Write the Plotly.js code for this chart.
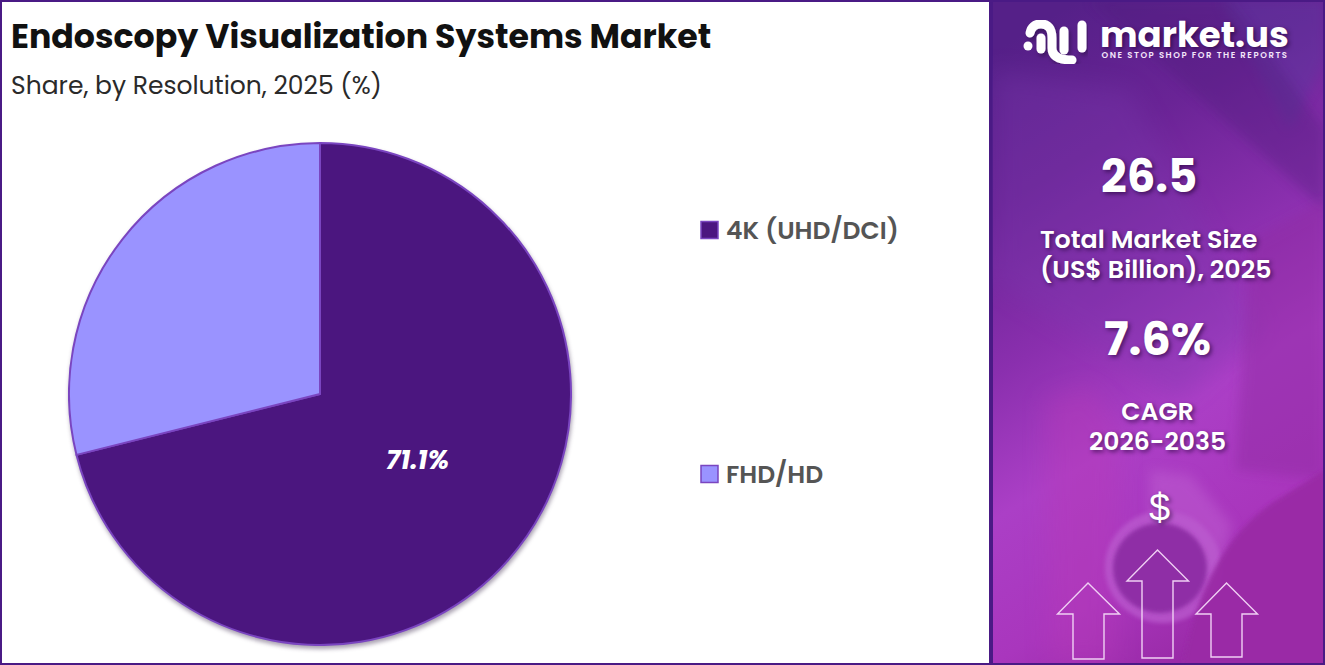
<!DOCTYPE html>
<html>
<head>
<meta charset="utf-8">
<script src="https://cdn.plot.ly/plotly-3.0.1.min.js"></script>
<style>
html,body{margin:0;padding:0;background:#fff;width:1325px;height:665px;overflow:hidden}
#bg{position:absolute;left:0;top:0;width:1325px;height:665px}
#chart{position:absolute;left:0;top:0;width:1325px;height:665px}
#chart .pielayer{filter:drop-shadow(1.5px 3px 2px rgba(40,20,60,0.4))}
</style>
</head>
<body>
<svg id="bg" width="1325" height="665" viewBox="0 0 1325 665">
  <defs>
    <linearGradient id="pg" x1="0.25" y1="0" x2="0.55" y2="1">
      <stop offset="0" stop-color="#552088"/>
      <stop offset="0.22" stop-color="#6a2496"/>
      <stop offset="0.45" stop-color="#8a2fae"/>
      <stop offset="0.65" stop-color="#ab3fc6"/>
      <stop offset="0.85" stop-color="#a936bd"/>
      <stop offset="1" stop-color="#9a2ba8"/>
    </linearGradient>
    <filter id="b2"><feGaussianBlur stdDeviation="2"/></filter>
    <filter id="b6" x="-30%" y="-30%" width="160%" height="160%"><feGaussianBlur stdDeviation="6"/></filter>
    <filter id="b12" x="-30%" y="-30%" width="160%" height="160%"><feGaussianBlur stdDeviation="12"/></filter>
    <filter id="ls"><feDropShadow dx="2" dy="3" stdDeviation="2" flood-color="#000" flood-opacity="0.3"/></filter>
    <clipPath id="pc"><rect x="992" y="2" width="331" height="661"/></clipPath>
  </defs>
  <rect x="0" y="0" width="1325" height="665" fill="#4a1a85"/>
  <rect x="2" y="2" width="987" height="661" fill="#fff"/>
  <rect x="993" y="2" width="330" height="661" fill="url(#pg)"/>
  <g clip-path="url(#pc)">
    <path d="M1220,0 L1325,0 L1325,60 L1290,130 Z" fill="#5a3aa0" opacity="0.4" filter="url(#b6)"/>
    <path d="M1090,0 L1230,0 L1325,130 L1325,210 Z" fill="#4f1a7c" opacity="0.35" filter="url(#b6)"/>
    <path d="M993,70 L1130,90 L1260,330 L1180,400 L993,280 Z" fill="#7d3ab0" opacity="0.3" filter="url(#b12)"/>
    <path d="M1250,240 L1325,200 L1325,480 L1235,470 Z" fill="#8e2aa0" opacity="0.45" filter="url(#b6)"/>
    <path d="M1045,400 L1090,385 L1120,430 L1115,665 L1050,665 Z" fill="#b83bb8" opacity="0.4" filter="url(#b12)"/>
    <path d="M1150,470 L1190,475 L1232,525 L1215,600 L1150,530 Z" fill="#bd5cd0" opacity="0.55" filter="url(#b6)"/>
    <ellipse cx="1163" cy="567" rx="58" ry="56" fill="#bb5ccf" opacity="0.75" filter="url(#b2)"/>
    <ellipse cx="1160" cy="568" rx="47" ry="45" fill="#8f2fa6" filter="url(#b2)"/>
    <path d="M1183,665 Q1205,540 1285,495 L1325,470 L1325,665 Z" fill="#9a2ba6" opacity="0.95" filter="url(#b2)"/>
    <g fill="none" stroke="#f0d0f4" stroke-width="1.4">
      <path d="M1073,659 V614 H1057.500 L1088,583 L1119.500,614 H1104 V659 Z"/>
      <path d="M1142,658 V581 H1127 L1157.500,550 L1188.500,581 H1173 V658 Z"/>
      <path d="M1211,657 V614 H1196 L1226.500,583 L1257.500,614 H1242 V657 Z"/>
    </g>
    <g fill="none" stroke="#fff" stroke-width="9" stroke-linecap="round" filter="url(#ls)">
      <path d="M1030,33 Q1032,24 1041,24 Q1052,24 1052,38 V48 Q1052,60 1072,60"/>
      <path d="M1041,38 V49"/>
      <path d="M1064,31 V50"/>
      <path d="M1082,25 V48"/>
    </g>
    <circle cx="1028" cy="46" r="4.500" fill="#fff"/>
  </g>
</svg>
<div id="chart"></div>
<script>
const categories = ['4K (UHD/DCI)', 'FHD/HD'];
const shareValues = [71.1, 28.9];
const sliceColors = ['#4b167f', '#9a93ff'];
const W = 1325, H = 665;
const px = x => x / W, py = y => 1 - y / H;

const headFont = 'Poppins, Inter, "Noto Sans", sans-serif';
const glow = '2px 2px 4px rgba(30,0,50,0.6)';

function note(text, x, y, size, color, weight, anchor, shadow, family, style) {
  return {
    text, x: px(x), y: py(y), xref: 'paper', yref: 'paper', showarrow: false,
    xanchor: anchor || 'center', yanchor: 'middle', align: anchor || 'center',
    font: {family: family || headFont, size, color, weight: weight || 400, shadow: shadow || 'none', style: style || 'normal'}
  };
}

const legendY = [230, 474];
const shapes = categories.map((c, i) => ({
  type: 'rect', xref: 'paper', yref: 'paper',
  x0: px(701), x1: px(718), y0: py(legendY[i] + 8.5), y1: py(legendY[i] - 8.5),
  fillcolor: sliceColors[i], line: {color: '#7a45c0', width: 1.5}
}));

const tagline = 'ONE STOP SHOP FOR THE REPORTS';
const sizeLabel = 'Total Market Size<br>(US$ Billion), 2025';
const cagrLabel = 'CAGR<br>2026-2035';
const annotations = [
  note('Endoscopy Visualization Systems Market', 9, 36, 33.2, '#111111', 700, 'left'),
  note('Share, by Resolution, 2025 (%)', 9, 85, 25, '#2a2a2a', 400, 'left'),
  ...categories.map((c, i) => note(c, 724, legendY[i], 25, '#555555', 600, 'left')),
  note(shareValues[0].toFixed(1) + '%', 417, 459, 26.5, '#ffffff', 700, 'center', 'none', null, 'italic'),
  note('market.us', 1098, 35, 35.5, '#ffffff', 700, 'left', glow),
  note(tagline, 1194.5, 55, 8.5, '#f4e6fa', 600, 'center'),
  note('26.5', 1149, 176, 45, '#ffffff', 700, 'center', glow),
  note(sizeLabel, 1038, 255.5, 25.3, '#ffffff', 600, 'left', glow),
  note('7.6%', 1157, 339, 46, '#ffffff', 700, 'center', glow),
  note(cagrLabel, 1157.5, 427.5, 25, '#ffffff', 600, 'center', glow),
  note('$', 1159, 508, 38, '#ffffff', 300, 'center', glow, '"Liberation Sans", sans-serif')
];

const trace = {
  type: 'pie',
  labels: categories,
  values: shareValues,
  textinfo: 'none',
  sort: false,
  direction: 'clockwise',
  rotation: 0,
  hole: 0,
  marker: {colors: sliceColors, line: {color: '#7a45c0', width: 2}},
  domain: {x: [px(69), px(571)], y: [py(645), py(143)]},
  showlegend: false,
  hoverinfo: 'label+percent'
};

const layout = {
  width: W, height: H,
  margin: {l: 0, r: 0, t: 0, b: 0},
  paper_bgcolor: 'rgba(0,0,0,0)',
  plot_bgcolor: 'rgba(0,0,0,0)',
  showlegend: false,
  shapes, annotations
};

Plotly.newPlot('chart', [trace], layout, {displayModeBar: false, responsive: false}).then(() => {
  document.querySelectorAll('#chart .annotation-text').forEach(t => {
    if (t.textContent === tagline) t.style.letterSpacing = '1.55px';
    const second = t.querySelector('tspan.line:nth-of-type(2)');
    if (second) second.setAttribute('dy', (30 / 25.3) + 'em');
  });
});
</script>
</body>
</html>
